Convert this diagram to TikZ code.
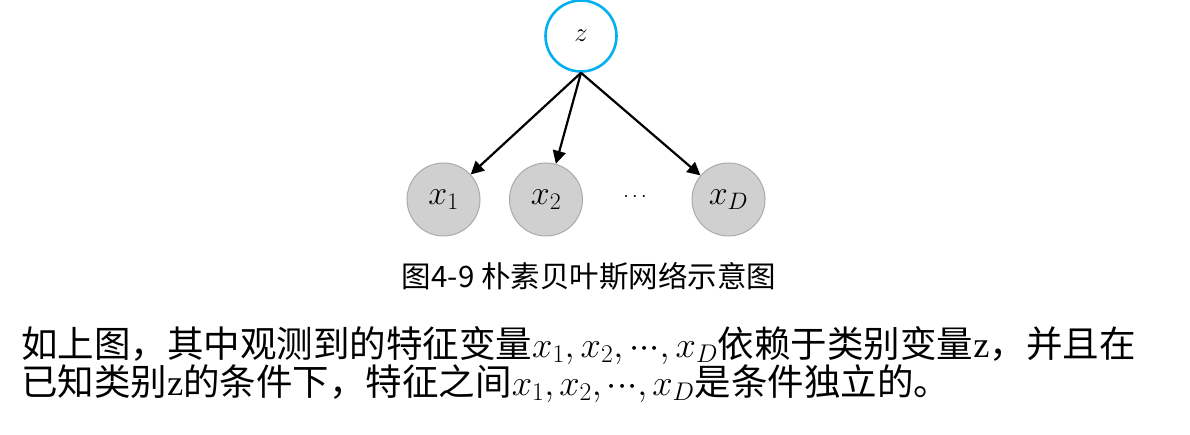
\RequirePackage{fix-cm}
\documentclass[tikz,border=0pt]{standalone}
\usepackage{fontspec}
\setmainfont{Liberation Serif}
\newfontfamily\cjk{Noto Sans CJK SC}
\usetikzlibrary{arrows.meta}
\definecolor{zblue}{RGB}{0,176,240}
\definecolor{nodegray}{RGB}{208,208,208}
\definecolor{nodeborder}{RGB}{170,170,170}
\newcommand{\mydots}{\mathord{\cdotp}\mathord{\cdotp}\mathord{\cdotp}}
\newcommand{\tcomma}{\mathord{,}\mkern2.5mu}
\tikzset{
  topnode/.style={circle, draw=zblue, line width=2.6pt, fill=white, minimum size=71pt, inner sep=0pt,
    font=\fontsize{27}{30}\selectfont},
  obsnode/.style={circle, draw=nodeborder, line width=1pt, fill=nodegray, minimum size=73pt, inner sep=0pt,
    font=\fontsize{34}{38}\selectfont},
  edge/.style={line width=2.2pt, -{Triangle[length=13pt,width=13pt]}},
  caption/.style={font=\cjk\fontsize{29.5}{32}\selectfont, inner sep=0pt},
  para/.style={font=\cjk\fontsize{36.5}{40}\selectfont, inner sep=0pt, anchor=base west}
}
\begin{document}
\begin{tikzpicture}[x=1pt,y=-1pt]
\useasboundingbox (0,0) rectangle (1190,435);
\node[topnode] (z) at (581,36) {$z$};
\node[obsnode] (x1) at (443.5,199.5) {$x_1$};
\node[obsnode] (x2) at (546,199.5) {$x_2$};
\node[inner sep=0pt, font=\fontsize{20}{24}\selectfont] (dots) at (635,197) {$\cdots$};
\node[obsnode] (xD) at (728.5,199.5) {$x_D$};
\draw[edge] (z.south) -- (x1);
\draw[edge] (z.south) -- (x2);
\draw[edge] (z.south) -- (xD);
\node[caption] (cap) at (589,276) {图4-9 朴素贝叶斯网络示意图};
\node[para] (l1) at (21,357) {如上图，其中观测到的特征变量$x_1,x_2,\mydots,x_D$依赖于类别变量{\rmfamily z}，并且在};
\node[para] (l2) at (21,395) {已知类别{\rmfamily z}的条件下，特征之间$x_1\tcomma x_2\tcomma\mydots\tcomma x_D$是条件独立的。};
\end{tikzpicture}
\end{document}
